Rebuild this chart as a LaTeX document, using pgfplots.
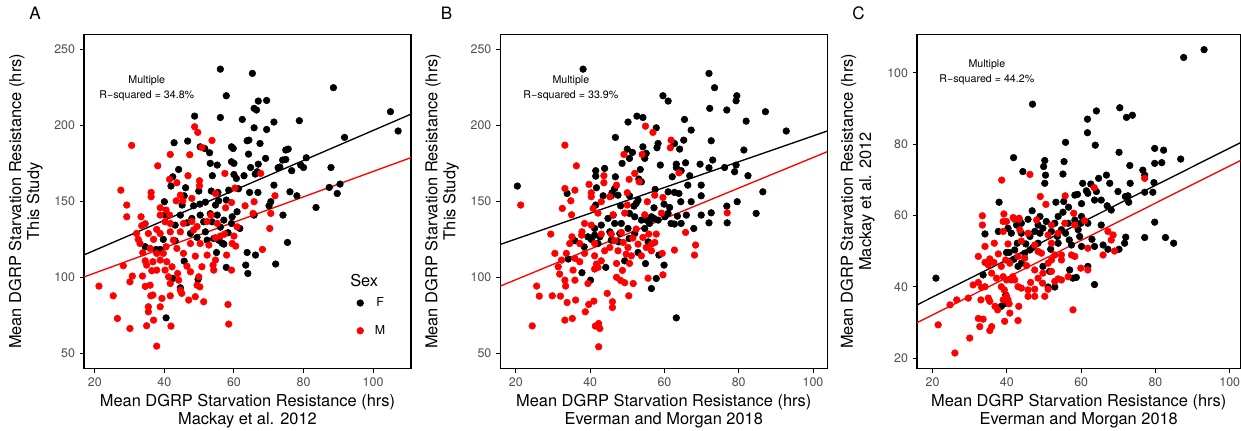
\documentclass[border=0pt]{standalone}
\usepackage{pgfplots}
\pgfplotsset{compat=1.18}
\usepackage{fontspec}
\setmainfont{TeX Gyre Heros}
\definecolor{tickgray}{HTML}{4D4D4D}
\tikzset{note/.style={font=\fontsize{8}{11.25}\selectfont, align=center}}
\pgfplotsset{
 panel/.style={
  scale only axis, width=245.25pt, height=250.5pt, anchor=south west,
  axis line style={line width=0.8pt, black},
  tick align=outside, xtick pos=left, ytick pos=left,
  major tick length=3.2pt,
  every tick/.style={black, line width=0.7pt},
  tick label style={font=\fontsize{9.3}{10.5}\selectfont, text=tickgray},
  /pgf/number format/assume math mode=true,
  label style={font=\fontsize{12.3}{13.6}\selectfont, align=center, inner sep=0pt},
  xlabel style={at={(axis description cs:0.5,0)}, anchor=north, yshift=-19.3pt},
  ylabel style={at={(axis description cs:-0.1254,0.5)}, anchor=south},
  legend image code/.code={\draw[#1] plot coordinates {(0pt,0pt)};},
 },
 fpts/.style={only marks, mark=*, mark size=2.5pt, black, mark options={draw=black, fill=black}},
 mpts/.style={only marks, mark=*, mark size=2.5pt, red, mark options={draw=red, fill=red}},
}
\begin{document}
\begin{tikzpicture}
\useasboundingbox (0,0) rectangle (930.75pt,323.25pt);
\node[font=\fontsize{12.8}{14}\selectfont] at (26.25pt,313.5pt) {A};
\node[font=\fontsize{12.8}{14}\selectfont] at (334.9pt,313.5pt) {B};
\node[font=\fontsize{12.8}{14}\selectfont] at (643.9pt,313.5pt) {C};
% ---------------- Panel A
\begin{axis}[panel, at={(63pt,47pt)},
 xmin=16.9, xmax=110.9, ymin=40, ymax=259.7,
 xtick={20,40,60,80,100}, ytick={50,100,150,200,250},
 xlabel={Mean DGRP Starvation Resistance (hrs)\\Mackay et al. 2012},
 ylabel={Mean DGRP Starvation Resistance (hrs)\\This Study},
 legend style={draw=none, fill=none, at={(axis description cs:0.882,0.154)}, anchor=center,
  font=\fontsize{9.3}{10.5}\selectfont, row sep=8.5pt, /tikz/every odd column/.append style={column sep=6.5pt}},
]
\addplot[fpts] coordinates {
(56.1,236.8)(65.3,234.0)(57.8,219.3)(67.0,215.8)(69.4,216.2)(88.6,224.6)(105.0,208.8)(107.2,196.1)(56.1,205.0)(62.4,203.7)(65.8,211.0)(66.5,209.9)(71.5,202.0)(78.8,202.9)(65.8,198.2)(69.4,197.1)(48.7,205.9)(91.8,191.9)(42.8,188.4)(46.7,189.5)(64.3,190.1)(63.8,189.7)(67.5,187.9)(59.3,185.7)(59.8,184.6)(50.3,185.7)(51.6,184.6)(53.0,181.8)(64.2,180.9)(75.6,184.2)(74.9,183.6)(80.8,178.5)(74.0,177.0)(74.9,177.4)(69.1,178.1)(53.2,174.8)(55.2,173.7)(59.3,175.9)(60.0,174.8)(67.0,174.3)(64.8,172.1)(72.7,171.9)(73.2,172.4)(79.2,173.7)(80.0,172.1)(76.6,170.0)(87.9,172.1)(44.1,170.8)(42.4,166.0)(41.9,159.9)(53.8,166.7)(60.0,167.5)(60.7,164.9)(62.9,166.7)(66.1,167.8)(66.7,169.3)(71.5,160.5)(87.4,159.0)(90.5,161.2)(89.7,155.0)(76.1,156.1)(78.1,153.5)(70.6,149.6)(70.1,146.9)(83.6,145.8)(46.1,158.8)(45.7,153.5)(49.9,156.6)(53.5,156.6)(55.4,155.7)(58.5,157.2)(61.3,158.1)(64.5,155.7)(66.9,155.7)(40.0,149.6)(45.1,147.4)(48.4,146.9)(50.2,148.0)(51.8,149.3)(54.7,147.4)(57.8,150.7)(55.6,150.2)
(34.5,120.0)(37.6,118.2)(39.7,124.8)(43.1,123.9)(45.7,110.5)(44.6,93.0)(42.4,99.1)(49.7,98.5)(40.5,73.2)(55.0,116.2)(57.8,106.4)(63.4,107.9)(64.0,102.4)(63.8,116.2)(66.2,114.5)(72.0,108.6)(75.4,122.8)(74.1,140.8)(58.3,129.2)(61.7,132.0)(59.3,135.3)(55.6,124.3)(57.1,121.7)(54.2,125.4)(56.1,132.9)(53.7,136.4)(51.3,136.4)(49.4,126.1)(51.8,129.8)(46.5,135.7)(44.6,140.8)(50.3,140.8)(47.9,138.6)(53.2,141.7)(55.2,140.8)(57.1,137.5)(59.5,139.7)(60.9,143.0)(65.8,140.8)(38.8,118.2)(56.6,122.4)(52.3,124.3)(47.5,128.7)(43.1,134.2)(40.2,140.8)
};
\addlegendentry{F}
\addplot[mpts] coordinates {
(30.6,186.6)(48.7,198.9)(49.6,195.2)(53.7,189.9)(50.8,185.3)(41.7,180.7)(47.3,180.5)(38.1,173.2)(41.5,164.3)(43.6,162.1)(46.8,166.7)(50.1,163.4)(50.1,160.1)(57.4,168.2)(67.7,168.2)(27.5,157.2)(36.2,155.7)(36.2,152.9)(44.6,153.9)(47.9,151.8)(43.4,150.2)(45.3,150.2)(54.7,155.0)(60.3,158.6)(59.3,149.1)(63.2,146.9)(65.8,149.6)(71.8,153.5)(29.2,147.4)(38.8,145.6)(40.5,144.1)(57.6,145.6)
(21.2,94.1)(25.3,87.7)(26.5,72.8)(30.1,66.2)(28.2,107.5)(30.1,96.9)(30.8,100.7)(33.3,139.7)(32.5,124.8)(33.0,122.1)(33.8,116.0)(34.5,110.7)(34.9,107.9)(36.4,104.2)(36.7,110.1)(35.4,128.7)(35.9,118.9)(36.9,124.8)(37.8,131.4)(37.8,115.6)(38.8,111.2)(39.7,115.6)(40.2,104.6)(40.5,120.0)(40.7,110.1)(41.2,100.2)(41.5,140.8)(41.7,135.3)(41.7,129.8)(42.6,124.3)(43.6,118.9)(43.8,102.4)(44.1,98.0)(44.6,91.4)(45.0,89.3)(45.5,115.6)(46.5,107.2)(47.0,84.9)(47.5,103.5)(48.4,131.0)(48.9,87.1)(49.4,94.7)(49.9,100.2)(50.2,93.6)(50.3,122.1)(51.3,83.8)(52.3,114.5)(52.8,121.1)(54.0,107.9)(54.2,104.6)(54.7,125.9)(56.1,127.0)(57.3,128.3)(57.9,114.5)(59.3,104.6)(60.0,127.0)(60.5,120.4)(60.9,133.1)(65.5,141.9)(68.2,118.2)(70.3,132.0)(70.6,141.9)(58.3,82.0)(58.5,69.1)(37.8,54.6)(36.1,87.7)(36.7,88.2)(35.4,80.5)(35.4,77.2)(34.9,68.0)(36.9,71.7)(41.9,67.8)(35.9,94.7)(29.2,139.7)(33.5,133.8)(32.0,128.7)(34.5,135.1)(38.8,140.8)(38.8,128.7)(40.2,136.4)(44.6,129.8)(45.5,135.3)(47.5,122.1)(47.9,136.6)(49.4,133.3)(52.3,136.6)(53.4,140.8)(55.2,135.3)(59.5,122.1)(48.9,113.8)(41.7,87.7)(50.8,106.8)(54.7,111.2)(37.8,104.6)(42.2,106.8)(33.7,100.7)(34.5,93.9)(38.8,80.5)(39.3,86.0)(41.7,95.8)
};
\addlegendentry{M}
\addplot[black, line width=1pt, forget plot] coordinates {(16.9,114.6)(110.9,207.2)};
\addplot[red, line width=1pt, forget plot] coordinates {(16.9,100.1)(110.9,178.6)};
\node[note] at (axis description cs:0.192,0.839) {Multiple\\R−squared = 34.8\%};
\node[anchor=west, font=\fontsize{12.3}{13.6}\selectfont] at (axis description cs:0.800,0.264) {Sex};
\end{axis}
% ---------------- Panel B
\begin{axis}[panel, at={(375.2pt,47pt)},
 xmin=15.8, xmax=103.85, ymin=40, ymax=259.7,
 xtick={20,40,60,80,100}, ytick={50,100,150,200,250},
 xlabel={Mean DGRP Starvation Resistance (hrs)\\Everman and Morgan 2018},
 ylabel={Mean DGRP Starvation Resistance (hrs)\\This Study},
]
\addplot[fpts] coordinates {
(38.1,236.8)(72.0,234.0)(73.5,224.6)(79.5,219.3)(79.3,216.0)(59.6,219.3)(61.0,215.8)(72.2,211.0)(76.8,209.9)(87.2,208.8)(82.0,202.6)(65.4,203.7)(67.2,196.7)(92.8,196.1)(50.2,202.0)(52.6,205.9)(54.2,205.0)(57.8,198.2)(72.6,189.7)(65.2,190.1)(64.1,184.2)(62.7,187.9)(46.8,191.9)(50.0,184.2)(51.4,182.0)(50.6,178.1)(48.6,174.8)(54.2,185.7)(55.1,181.4)(54.7,178.1)(58.3,187.9)(58.0,185.1)(81.4,183.6)(73.0,177.0)(69.6,174.3)(72.0,171.9)(76.2,172.1)(79.3,173.7)(78.9,169.3)(82.5,166.7)(63.2,174.3)(63.2,172.1)(65.7,175.2)(64.5,170.0)(66.8,166.7)(62.1,166.0)(66.3,160.5)(58.9,173.7)(53.5,170.8)(53.1,164.5)(53.8,162.7)(46.8,166.0)(41.5,170.0)(41.5,166.4)(43.9,171.5)(69.9,160.5)(69.9,153.5)(86.5,156.1)(57.5,157.7)(61.0,156.1)(62.7,155.7)(63.9,155.0)(59.9,148.0)(61.4,145.8)(64.4,149.6)(67.2,149.6)(76.8,146.7)(79.6,149.6)(46.6,158.3)(45.9,155.5)(47.5,153.9)(45.7,153.5)(43.5,153.5)(41.7,158.8)(33.8,155.0)(20.4,159.9)(50.6,153.5)(52.9,150.7)(52.4,148.5)(57.2,145.6)(48.2,146.9)(41.5,147.4)(51.8,146.7)
(35.9,123.9)(38.4,119.9)(37.8,102.9)(40.1,98.0)(40.3,124.8)(41.2,127.6)(42.6,126.5)(44.2,106.4)(45.3,129.8)(46.6,135.3)(47.7,123.2)(49.3,110.7)(50.5,125.4)(52.9,116.2)(54.9,108.9)(55.6,123.2)(56.0,135.3)(57.2,138.6)(57.8,99.1)(56.5,92.5)(58.5,114.5)(59.9,107.9)(61.8,135.3)(62.7,134.9)(63.2,73.2)(65.9,140.8)(67.9,132.0)(72.0,135.7)(76.9,135.7)(84.7,141.9)(69.9,140.8)(72.6,142.3)(50.6,141.9)(48.4,135.3)(46.2,140.8)(44.8,138.6)(43.0,134.2)(41.2,132.0)(52.0,139.7)(53.8,137.5)(55.1,137.5)(56.5,139.7)(58.3,137.5)(60.1,139.7)(61.0,141.9)(63.5,140.1)(64.5,135.3)(39.4,126.5)(34.1,111.9)(42.1,122.1)(45.7,124.3)(48.0,128.7)(50.2,132.0)(52.0,128.7)(54.7,132.0)
};
\addplot[mpts] coordinates {
(33.2,186.8)(36.3,173.2)(39.7,161.0)(33.2,158.3)(35.9,157.2)(34.8,150.2)(32.5,145.2)(21.3,147.4)(40.3,155.5)(40.3,152.9)(43.0,149.6)(40.8,145.2)(43.7,166.7)(43.7,162.1)(47.1,160.5)(49.1,180.7)(50.5,164.3)(52.0,168.2)(53.2,162.7)(50.0,155.5)(50.0,147.4)(54.9,199.3)(56.9,195.2)(61.8,190.1)(61.6,185.1)(54.0,180.7)(55.4,149.6)(57.4,153.9)(59.6,152.4)(63.9,168.6)(45.3,152.9)
(29.4,128.3)(30.5,115.6)(25.6,94.1)(26.3,87.5)(29.8,87.7)(32.0,87.5)(33.4,94.1)(33.8,83.3)(33.2,71.7)(35.2,72.8)(36.1,84.9)(24.4,67.9)(38.7,77.2)(39.6,82.0)(41.0,84.2)(41.4,67.8)(42.3,69.5)(42.6,66.2)(42.3,54.2)(44.6,89.3)(46.0,83.8)(46.0,80.0)(50.4,87.7)(49.3,96.3)(51.6,95.8)(47.1,99.9)(48.2,97.8)(48.7,104.4)(47.1,109.0)(50.6,109.0)(51.1,114.0)(49.7,115.1)(53.8,114.0)(52.9,121.7)(54.2,126.1)(55.8,128.3)(56.5,121.7)(57.8,128.3)(55.6,99.3)(59.4,115.6)(59.6,101.5)(62.7,117.8)(65.7,129.4)(68.4,121.1)(68.1,114.5)(76.9,142.3)(32.3,111.2)(31.4,106.8)(31.8,102.0)(33.6,115.6)(34.5,122.1)(35.4,104.6)(35.9,112.3)(37.2,110.1)(37.7,127.6)(38.5,115.6)(38.5,135.3)(40.3,134.2)(41.2,114.0)(41.7,108.6)(41.2,105.3)(42.1,106.4)(43.0,110.7)(43.9,117.3)(45.3,119.5)(45.7,128.3)(46.6,123.9)(48.4,129.4)(41.2,122.1)(43.0,128.3)(37.2,122.1)(35.1,126.5)(37.8,129.8)(39.4,95.8)(33.2,98.0)(35.9,98.0)(47.5,117.3)(48.9,122.8)(50.2,119.5)(51.5,125.7)(52.4,131.6)(56.5,117.3)(57.4,122.8)(55.1,119.5)(35.0,141.0)(42.1,142.1)(46.2,141.0)(49.3,142.1)(54.7,141.0)(59.2,142.1)
};
\addplot[black, line width=1pt] coordinates {(15.8,121.5)(103.85,196.1)};
\addplot[red, line width=1pt] coordinates {(15.8,94.1)(103.85,182.5)};
\node[note] at (axis description cs:0.216,0.839) {Multiple\\R−squared = 33.9\%};
\end{axis}
% ---------------- Panel C
\begin{axis}[panel, at={(687.75pt,47pt)}, width=242.6pt,
 xmin=15.8, xmax=102.9, ymin=17.1, ymax=110.8,
 xtick={20,40,60,80,100}, ytick={20,40,60,80,100},
 xlabel={Mean DGRP Starvation Resistance (hrs)\\Everman and Morgan 2018},
 ylabel={Mean DGRP Starvation Resistance (hrs)\\Mackay et al. 2012},
 ylabel style={at={(axis description cs:-0.13,0.5)}},
]
\addplot[fpts] coordinates {
(87.6,104.3)(93.1,106.5)(46.9,91.2)(64.1,89.3)(70.4,90.2)(72.2,87.5)(73.8,88.1)(61.7,87.0)(61.7,83.2)(55.8,80.5)(63.8,79.7)(70.2,77.7)(79.8,78.8)(82.2,78.3)(86.8,75.8)(79.8,74.6)(81.7,74.8)(73.1,74.0)(41.8,76.2)(44.3,72.3)(50.2,75.4)(49.9,73.7)(50.4,71.3)(50.2,69.0)(55.4,75.1)(55.1,71.6)(37.9,63.7)(46.8,61.3)(60.4,69.0)(62.6,68.8)(64.1,66.7)(64.7,70.4)(66.8,71.3)(67.7,69.0)(69.9,66.7)(72.6,65.5)(73.2,69.0)(76.6,72.7)(77.1,71.3)(79.6,69.2)(77.1,66.5)(79.3,66.5)(53.2,63.7)(55.3,63.9)(56.6,62.3)(58.3,65.7)(59.0,65.9)(60.1,63.3)(61.4,66.9)(61.8,66.2)(63.6,64.3)(65.4,64.3)(67.0,62.7)(68.1,61.5)(60.1,59.7)(55.1,60.9)(53.8,59.7)(48.9,59.7)(45.7,58.9)(72.8,63.7)(71.9,65.3)
(20.9,42.4)(34.1,54.8)(37.7,55.5)(40.3,56.4)(39.9,49.6)(40.6,49.6)(42.8,52.2)(41.9,47.7)(43.9,46.6)(45.1,52.0)(46.2,54.1)(47.5,55.5)(48.9,55.0)(49.7,56.4)(52.0,55.5)(51.8,50.5)(53.6,54.1)(54.7,56.0)(55.8,55.0)(56.8,53.1)(57.4,51.7)(59.2,56.0)(59.6,54.1)(56.9,44.7)(57.8,42.4)(58.7,42.6)(49.7,45.7)(51.5,44.3)(51.1,39.9)(52.9,39.9)(53.8,52.2)(47.1,51.1)(44.8,49.4)(42.1,50.3)(38.5,34.5)(39.3,35.2)(33.6,43.3)(39.7,37.7)(43.0,45.7)(61.8,45.7)(63.6,40.6)(60.1,51.3)(62.9,53.3)(63.6,51.3)(65.4,57.3)(65.9,51.7)(67.2,50.5)(70.2,50.5)(71.7,52.2)(72.0,53.9)(77.1,53.8)(79.8,58.1)(82.7,53.8)(84.9,52.2)(61.8,57.8)(59.9,57.8)(58.3,58.7)(56.5,57.8)(52.9,57.8)(50.6,58.3)(48.4,57.3)(43.9,57.8)(42.6,57.3)(41.2,55.0)(46.2,50.3)(48.4,52.2)(43.9,55.0)
};
\addplot[mpts] coordinates {
(38.6,69.9)(46.2,71.5)(49.0,65.3)(50.5,63.1)(55.7,65.5)(58.0,60.6)(63.5,67.8)(77.1,70.4)(33.4,59.9)(39.2,60.4)(41.7,59.4)(43.3,59.2)
(33.4,57.3)(34.1,51.3)(32.3,48.5)(36.5,46.8)(36.6,52.2)(39.0,55.5)(39.0,58.3)(39.9,58.3)(42.1,58.9)(43.3,58.9)(43.5,55.9)(43.0,48.5)(44.8,48.0)(45.3,45.9)(47.5,44.7)(46.4,41.2)(48.4,42.4)(47.5,39.3)(45.7,39.1)(43.0,40.0)(42.1,41.9)(41.2,41.9)(39.9,41.9)(39.0,42.8)(38.5,40.0)(39.3,39.1)(39.9,37.3)(40.3,36.3)(39.0,36.3)(37.5,33.5)(36.8,34.5)(35.4,35.9)(35.0,36.8)(34.1,40.0)(33.2,39.8)(33.0,36.3)(32.3,31.1)(32.7,28.8)(33.6,30.9)(35.4,27.7)(35.9,28.8)(39.4,30.3)(43.0,30.5)(43.2,34.5)(40.8,32.6)(40.6,35.2)(30.0,25.6)(26.0,21.4)(21.5,29.3)(24.7,34.9)(26.5,36.3)(29.6,36.8)(30.9,40.5)(32.3,41.2)(35.0,46.1)(35.9,43.8)(37.2,42.4)(38.5,45.7)(39.7,47.5)(40.8,46.6)(41.6,42.8)(43.9,39.6)(45.7,37.3)(47.5,37.3)(49.6,41.0)(50.2,37.3)(51.1,39.3)(49.7,43.8)(52.0,44.3)(52.9,41.5)(53.8,42.2)(54.7,41.9)(56.5,42.8)(57.8,33.5)(59.9,45.2)(61.8,44.7)(58.3,48.5)(57.4,48.9)(54.7,48.9)(54.7,47.5)(52.9,48.9)(51.1,46.6)(52.0,47.5)(49.3,49.4)(48.4,49.9)(47.5,51.7)(45.7,55.0)(48.0,58.7)(52.0,57.3)(55.6,57.8)(58.3,57.3)(60.9,58.5)(61.8,50.8)(65.9,48.9)(67.2,55.5)(68.1,53.1)(69.0,50.0)(68.6,54.5)(52.0,52.2)(53.8,55.0)(37.7,49.2)(35.4,47.8)(34.1,46.8)(40.3,52.0)(43.9,52.8)(51.1,54.5)
};
\addplot[black, line width=1pt] coordinates {(15.8,34.9)(102.9,80.4)};
\addplot[red, line width=1pt] coordinates {(15.8,29.9)(102.9,75.4)};
\node[note] at (axis description cs:0.216,0.885) {Multiple\\R−squared = 44.2\%};
\end{axis}
\end{tikzpicture}
\end{document}
